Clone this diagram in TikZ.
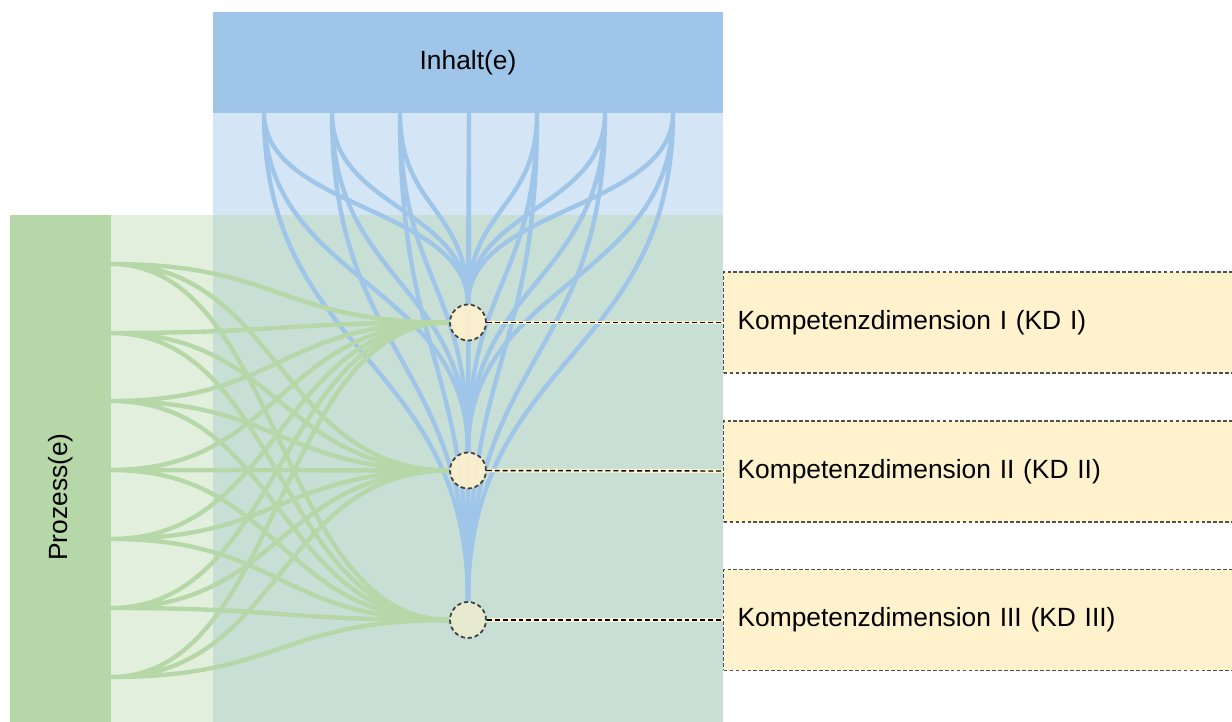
\documentclass[tikz,border=0pt]{standalone}
\usepackage{fontspec}
\setmainfont{Liberation Sans}
\usepackage{graphicx}
\definecolor{inhaltcol}{HTML}{9FC5E8}
\definecolor{prozesscol}{HTML}{B6D7A8}
\definecolor{kdcol}{HTML}{FFF2CC}
\definecolor{rahmen}{HTML}{505050}
\pgfdeclarelayer{hinten}
\pgfsetlayers{hinten,main}

\begin{document}
\begin{tikzpicture}[x=0.02cm,y=0.02cm,font=\fontsize{15}{18}\selectfont]
\tikzstyle{every node}+=[inner sep=0pt]
\tikzstyle{inhaltline}=[inhaltcol,line width=2.5pt]
\tikzstyle{prozessline}=[prozesscol,line width=2.5pt]
\tikzstyle{kdpoint}=[circle,draw=black!75,dash pattern=on 2.4pt off 1.6pt,line width=1pt,fill=kdcol,fill opacity=0.9,minimum size=0.72cm]
\tikzstyle{kdbox}=[draw=rahmen,dash pattern=on 2.2pt off 1.2pt,line width=0.7pt,fill=kdcol,anchor=west,minimum height=2.02cm,text width=9.8cm,inner xsep=0.28cm,align=left]
\tikzstyle{kdbase}=[kdcol,line width=2.2pt]
\tikzstyle{kdlink}=[black,dash pattern=on 2.8pt off 1.7pt,line width=0.8pt]
\useasboundingbox (0,0) rectangle (1232,-722);
% Kompetenzpunkte
\node [kdpoint] (kdA) at (468,-322.5) {};
\node [kdpoint] (kdB) at (468,-470.5) {};
\node [kdpoint,fill opacity=0.6] (kdC) at (468,-620) {};
% Kompetenzdimensionen
\node [kdbox] (boxA) at (723,-322.5) {Kompetenzdimension I (KD I)};
\node [kdbox] (boxB) at (723,-471.5) {Kompetenzdimension II (KD II)};
\node [kdbox] (boxC) at (723,-620) {Kompetenzdimension III (KD III)};
\draw [kdbase] (kdA) -- (boxA);
\draw [kdlink] (kdA) -- (boxA);
\draw [kdbase] (kdB) -- (boxB);
\draw [kdlink] (kdB) -- (boxB);
\draw [kdbase] (kdC) -- (boxC);
\draw [kdlink] (kdC) -- (boxC);
\begin{pgfonlayer}{hinten}
\fill [inhaltcol,opacity=0.45] (213,-113) rectangle (723,-780);
\fill [prozesscol,opacity=0.4] (111,-215) rectangle (723,-780);
\node [fill=inhaltcol,minimum width=10.2cm,minimum height=2.02cm] (inhalt) at (468,-62.5) {Inhalt(e)};
\node [fill=prozesscol,minimum width=2.02cm,minimum height=11.28cm] (prozess) at (60.5,-497) {\rotatebox{90}{Prozess(e)}};
\coordinate (i1) at (264,-113);
\coordinate (i2) at (332,-113);
\coordinate (i3) at (400,-113);
\coordinate (i4) at (469,-113);
\coordinate (i5) at (537,-113);
\coordinate (i6) at (605,-113);
\coordinate (i7) at (673,-113);
\coordinate (p1) at (111,-264);
\coordinate (p2) at (111,-333);
\coordinate (p3) at (111,-401);
\coordinate (p4) at (111,-470);
\coordinate (p5) at (111,-539);
\coordinate (p6) at (111,-608);
\coordinate (p7) at (111,-677);
% Inhalte
\draw [inhaltline] (i1) .. controls +(0,-96) and +(0,96) .. (kdA.north) (i1) .. controls +(0,-170) and +(0,170) .. (kdB.north) (i1) .. controls +(0,-245) and +(0,245) .. (kdC.north);
\draw [inhaltline] (i2) .. controls +(0,-96) and +(0,96) .. (kdA.north) (i2) .. controls +(0,-170) and +(0,170) .. (kdB.north) (i2) .. controls +(0,-245) and +(0,245) .. (kdC.north);
\draw [inhaltline] (i3) .. controls +(0,-96) and +(0,96) .. (kdA.north) (i3) .. controls +(0,-170) and +(0,170) .. (kdB.north) (i3) .. controls +(0,-245) and +(0,245) .. (kdC.north);
\draw [inhaltline] (i4) .. controls +(0,-96) and +(0,96) .. (kdA.north) (i4) .. controls +(0,-170) and +(0,170) .. (kdB.north) (i4) .. controls +(0,-245) and +(0,245) .. (kdC.north);
\draw [inhaltline] (i5) .. controls +(0,-96) and +(0,96) .. (kdA.north) (i5) .. controls +(0,-170) and +(0,170) .. (kdB.north) (i5) .. controls +(0,-245) and +(0,245) .. (kdC.north);
\draw [inhaltline] (i6) .. controls +(0,-96) and +(0,96) .. (kdA.north) (i6) .. controls +(0,-170) and +(0,170) .. (kdB.north) (i6) .. controls +(0,-245) and +(0,245) .. (kdC.north);
\draw [inhaltline] (i7) .. controls +(0,-96) and +(0,96) .. (kdA.north) (i7) .. controls +(0,-170) and +(0,170) .. (kdB.north) (i7) .. controls +(0,-245) and +(0,245) .. (kdC.north);
% Prozesse
\draw [prozessline] (p1) .. controls +(170,0) and +(-170,0) .. (kdA.west) (p1) .. controls +(170,0) and +(-170,0) .. (kdB.west) (p1) .. controls +(170,0) and +(-170,0) .. (kdC.west);
\draw [prozessline] (p2) .. controls +(170,0) and +(-170,0) .. (kdA.west) (p2) .. controls +(170,0) and +(-170,0) .. (kdB.west) (p2) .. controls +(170,0) and +(-170,0) .. (kdC.west);
\draw [prozessline] (p3) .. controls +(170,0) and +(-170,0) .. (kdA.west) (p3) .. controls +(170,0) and +(-170,0) .. (kdB.west) (p3) .. controls +(170,0) and +(-170,0) .. (kdC.west);
\draw [prozessline] (p4) .. controls +(170,0) and +(-170,0) .. (kdA.west) (p4) .. controls +(170,0) and +(-170,0) .. (kdB.west) (p4) .. controls +(170,0) and +(-170,0) .. (kdC.west);
\draw [prozessline] (p5) .. controls +(170,0) and +(-170,0) .. (kdA.west) (p5) .. controls +(170,0) and +(-170,0) .. (kdB.west) (p5) .. controls +(170,0) and +(-170,0) .. (kdC.west);
\draw [prozessline] (p6) .. controls +(170,0) and +(-170,0) .. (kdA.west) (p6) .. controls +(170,0) and +(-170,0) .. (kdB.west) (p6) .. controls +(170,0) and +(-170,0) .. (kdC.west);
\draw [prozessline] (p7) .. controls +(170,0) and +(-170,0) .. (kdA.west) (p7) .. controls +(170,0) and +(-170,0) .. (kdB.west) (p7) .. controls +(170,0) and +(-170,0) .. (kdC.west);
\end{pgfonlayer}
\end{tikzpicture}
\end{document}
